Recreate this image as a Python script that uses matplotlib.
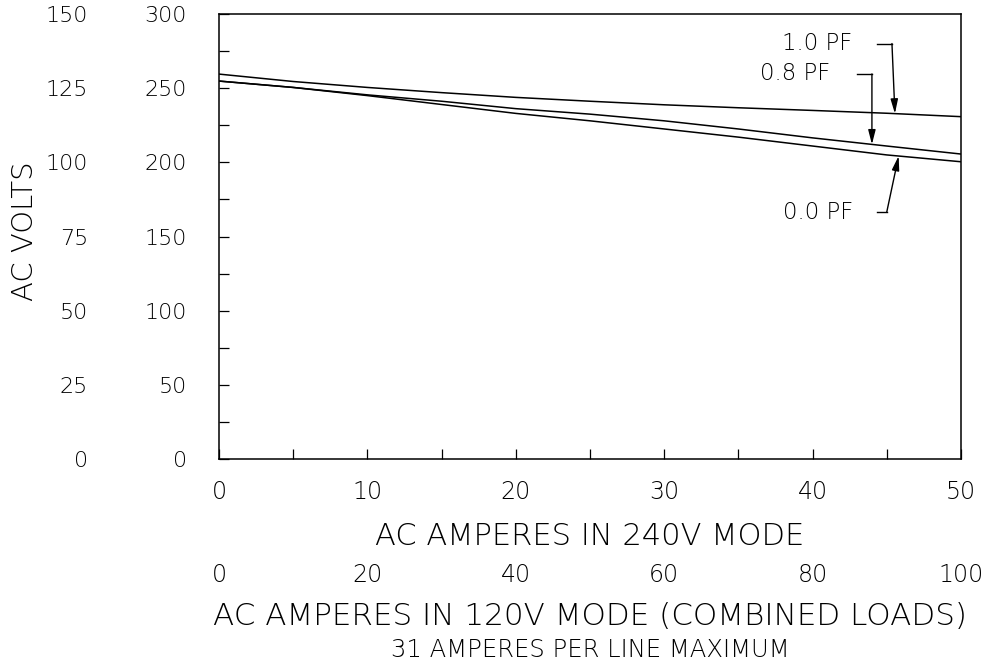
import numpy as np
import matplotlib
matplotlib.use('Agg')
from matplotlib import pyplot as plt

# Datos (amperes en modo 240V, volts AC)
amperes = [0, 5, 10, 15, 20, 25, 30, 35, 40, 45, 50]
volts_pf10 = [259.5, 254.5, 250.5, 247.0, 243.8, 241.2, 238.8, 236.8, 235.0, 233.1, 230.8]
volts_pf08 = [254.8, 250.5, 245.5, 241.2, 236.2, 232.5, 228.0, 222.5, 216.5, 211.0, 205.6]
volts_pf00 = [254.8, 250.5, 245.0, 239.0, 233.0, 228.0, 222.5, 217.0, 211.0, 205.0, 200.4]

# Etiquetas de las curvas
etiquetas_pf = ['1.0 PF', '0.8 PF', '0.0 PF']

plt.rcParams['font.family'] = ['DejaVu Sans']
plt.rcParams['font.weight'] = 'light'
plt.rcParams['axes.labelweight'] = 'light'

fig = plt.figure(figsize=(9.86, 6.64), dpi=100)
ax = fig.add_axes([0.2221, 0.3087, 0.7525, 0.6702])

series = [volts_pf10, volts_pf08, volts_pf00]
for v in series:
    ax.plot(amperes, v, color='black', linewidth=1.1)

ax.set_xlim(0, 50)
ax.set_ylim(0, 300)

ax.set_xticks(np.arange(0, 51, 10))
ax.set_xticks(np.arange(0, 51, 5), minor=True)
ax.set_yticks(np.arange(0, 301, 50))
ax.set_yticks(np.arange(0, 301, 25), minor=True)

ax.tick_params(axis='both', which='both', direction='in', length=7.2, width=0.9, color='black')
ax.tick_params(axis='x', which='major', labelsize=17, pad=15)
ax.tick_params(axis='y', which='major', labelsize=16, pad=23)

for s in ax.spines.values():
    s.set_linewidth(1.1)

# Segunda escala vertical (150 V)
ax2 = ax.secondary_yaxis(-0.1334, functions=(lambda v: v / 2, lambda v: v * 2))
ax2.set_yticks(np.arange(0, 151, 25))
ax2.tick_params(axis='y', length=0, labelsize=16, pad=23)
ax2.spines['left'].set_visible(False)

# Segunda escala horizontal (modo 120V)
ax3 = ax.secondary_xaxis(-0.1865, functions=(lambda a: a * 2, lambda a: a / 2))
ax3.set_xticks(np.arange(0, 101, 20))
ax3.tick_params(axis='x', length=0, labelsize=17, pad=15)
ax3.spines['bottom'].set_visible(False)

# Titulos de ejes
ax.set_xlabel('AC AMPERES IN 240V MODE', fontsize=22, fontweight='light')
ax.xaxis.set_label_coords(0.5, -0.1416)
ax.set_ylabel('AC VOLTS', fontsize=21, fontweight='light')
ax.yaxis.set_label_coords(-0.2426, 0.512)

ax.text(0.5, -0.321, 'AC AMPERES IN 120V MODE (COMBINED LOADS)', transform=ax.transAxes,
        ha='center', va='top', fontsize=22.3, fontweight='light')
ax.text(0.5, -0.402, '31 AMPERES PER LINE MAXIMUM', transform=ax.transAxes,
        ha='center', va='top', fontsize=17.5, fontweight='light')

# Flechas de las etiquetas: (texto x, texto y, inicio linea, esquina, x punta)
texto_x = [42.65, 41.17, 42.72]
texto_y = [280.1, 259.6, 166.5]
linea_x0 = [44.34, 43.0, 44.34]
esquina_x = [45.35, 44.0, 45.0]
punta_x = [45.55, 44.0, 45.8]

for i in range(3):
    ax.text(texto_x[i], texto_y[i], etiquetas_pf[i], ha='right', va='center', fontsize=16.5,
            fontweight='light')
    ax.plot([linea_x0[i], esquina_x[i]], [texto_y[i], texto_y[i]], color='black', linewidth=1.0)
    punta_y = np.interp(punta_x[i], amperes, series[i])
    ax.annotate('', xy=(punta_x[i], punta_y), xytext=(esquina_x[i], texto_y[i]),
                arrowprops=dict(arrowstyle='-|>,head_length=8.6,head_width=2.2',
                                mutation_scale=1, color='black', lw=1.0,
                                shrinkA=0, shrinkB=0))

plt.savefig('out.png', dpi=100)
